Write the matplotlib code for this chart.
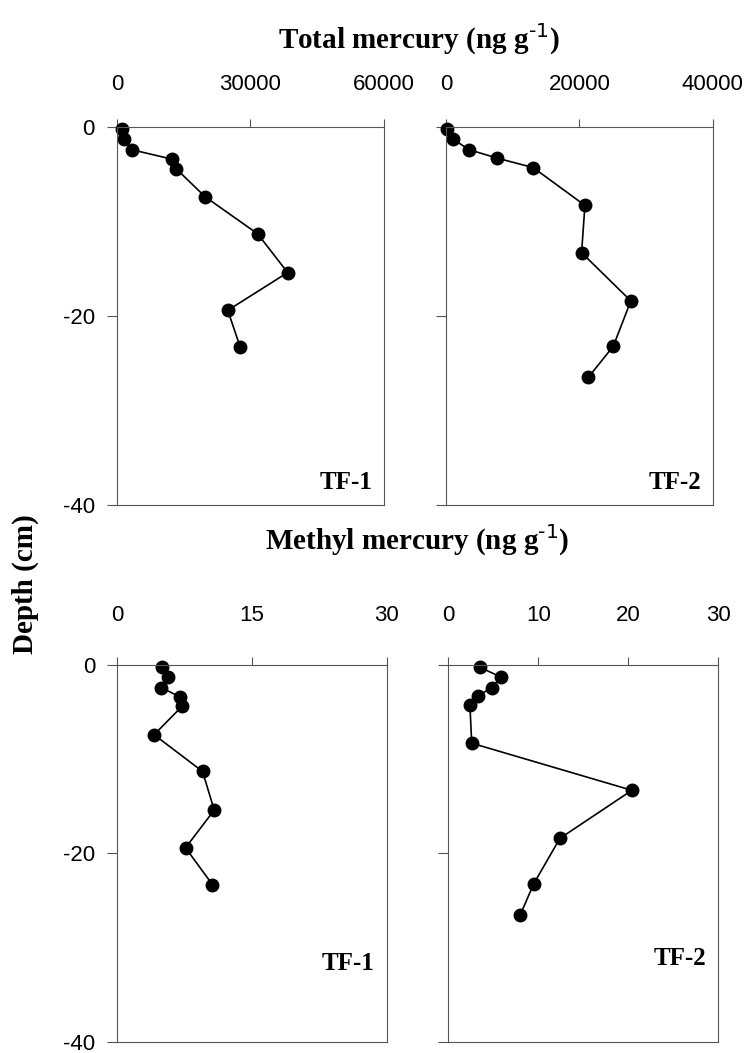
import matplotlib.pyplot as plt

plt.rcParams["axes.unicode_minus"] = False

# Sampling depths (cm) for the two cores
tf1_depth = [-0.25, -1.3, -2.4, -3.4, -4.4, -7.4, -11.3, -15.4, -19.4, -23.3]
tf2_depth = [-0.25, -1.3, -2.4, -3.3, -4.3, -8.3, -13.3, -18.4, -23.2, -26.5]

# Total mercury (ng/g)
tf1_thg = [1050, 1570, 3300, 12300, 13250, 19850, 31600, 38350, 24900, 27700]
tf2_thg = [200, 1100, 3450, 7700, 13080, 20820, 20320, 27700, 25070, 21320]

# Methyl mercury (ng/g)
tf1_mehg = [5.0, 5.7, 4.9, 7.0, 7.2, 4.1, 9.5, 10.8, 7.6, 10.6]
tf2_mehg = [3.5, 5.9, 4.8, 3.3, 2.4, 2.6, 20.4, 12.4, 9.5, 8.0]

fig = plt.figure(figsize=(7.54, 10.53), dpi=100)

serif_bold = {"family": "Liberation Serif", "weight": "bold"}

panels = [
    # rect, x, y, xlim, xticks, core label, label y, tick pad, show y labels
    ([0.1552, 0.5204, 0.354, 0.359], tf1_thg, tf1_depth, (0, 60000), [0, 30000, 60000], "TF-1", 0.03, 17, True),
    ([0.5915, 0.5204, 0.354, 0.359], tf2_thg, tf2_depth, (0, 40000), [0, 20000, 40000], "TF-2", 0.03, 17, False),
    ([0.1556, 0.0105, 0.357, 0.358], tf1_mehg, tf1_depth, (0, 30), [0, 15, 30], "TF-1", 0.178, 22, True),
    ([0.5946, 0.0105, 0.358, 0.358], tf2_mehg, tf2_depth, (0, 30), [0, 10, 20, 30], "TF-2", 0.19, 22, False),
]

for rect, xs, ys, xlim, xticks, core, core_y, pad, ylabels in panels:
    ax = fig.add_axes(rect)
    ax.plot(xs, ys, color="black", linewidth=1.2, marker="o",
            markersize=9, markerfacecolor="black", markeredgecolor="black",
            clip_on=False)
    ax.set_xlim(*xlim)
    ax.set_ylim(-40, 0)
    ax.set_xticks(xticks)
    ax.set_yticks([0, -20, -40])
    ax.xaxis.tick_top()
    ax.tick_params(axis="x", direction="out", length=6, width=0.8,
                   pad=pad, color="#555555")
    ax.tick_params(axis="y", direction="out", length=7, width=0.8,
                   pad=9, color="#555555", labelleft=ylabels)
    for lab in ax.get_xticklabels() + ax.get_yticklabels():
        lab.set_fontfamily("Liberation Sans")
        lab.set_fontsize(16)
    for sp in ax.spines.values():
        sp.set_linewidth(0.8)
        sp.set_color("#555555")
    ax.text(0.955, core_y, core, transform=ax.transAxes, ha="right",
            va="bottom", fontsize=18, **serif_bold)

fig.text(0.555, 0.963, r"Total mercury (ng g$^{\text{-1}}$)",
         ha="center", va="center", fontsize=21, **serif_bold)
fig.text(0.553, 0.487, r"Methyl mercury (ng g$^{\text{-1}}$)",
         ha="center", va="center", fontsize=21, **serif_bold)
fig.text(0.034, 0.445, "Depth (cm)", rotation=90, ha="center", va="center",
         fontsize=21, **serif_bold)

plt.savefig("out.png", dpi=100)
